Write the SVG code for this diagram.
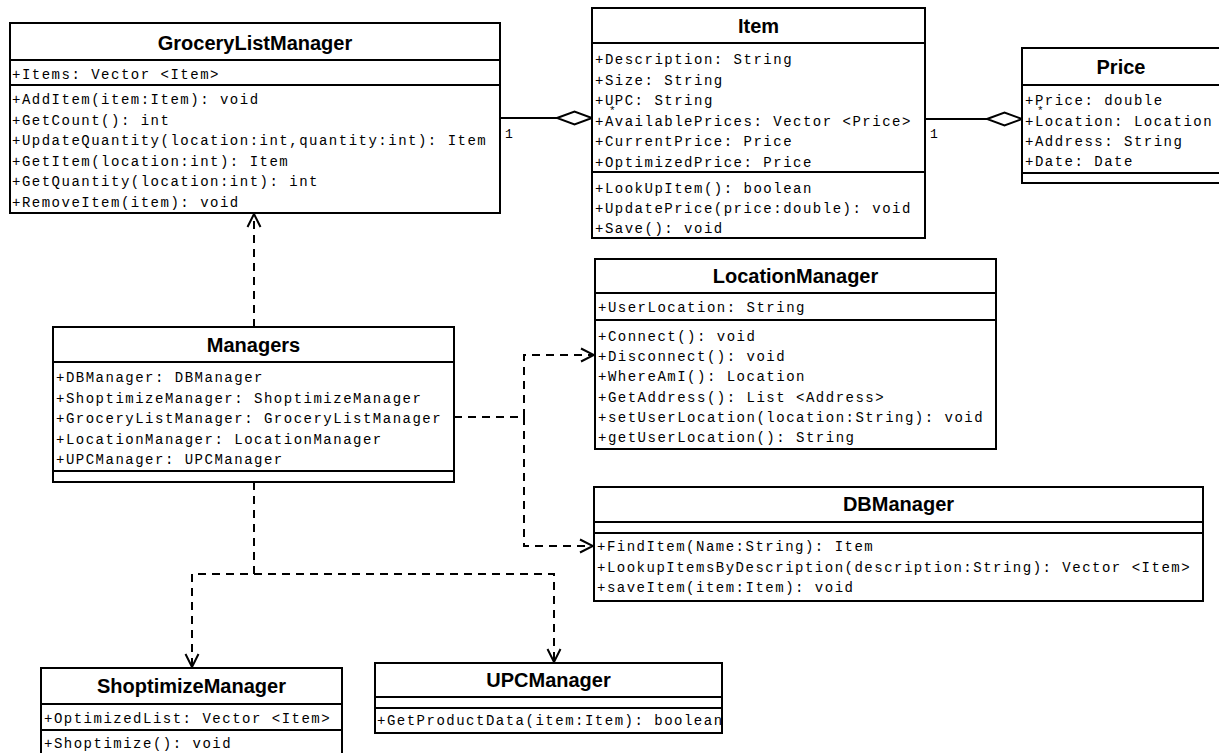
<svg xmlns="http://www.w3.org/2000/svg" width="1219" height="753" viewBox="0 0 1219 753">
<style>
.box{fill:#fff;stroke:#000;stroke-width:2}
.sep{stroke:#000;stroke-width:2}
.t{font-family:"Liberation Sans",Arial,sans-serif;font-weight:bold;font-size:20px;text-anchor:middle;fill:#000}
.m{font-family:"Liberation Mono","Courier New",monospace;font-size:14px;letter-spacing:1.5px;fill:#000}
.conn{fill:none;stroke:#000;stroke-width:2}
.dash{stroke-dasharray:8 6}
.lbl{font-family:"Liberation Mono","Courier New",monospace;font-size:13px;fill:#000}
.star{font-family:"Liberation Mono","Courier New",monospace;font-size:11px;fill:#000}
</style>
<defs>
<marker id="open" markerUnits="userSpaceOnUse" markerWidth="16" markerHeight="16" viewBox="0 0 16 16" refX="14" refY="8" orient="auto">
<path d="M1,1.5 L14,8 L1,14.5" fill="none" stroke="#000" stroke-width="2"/>
</marker>
<marker id="dia" markerUnits="userSpaceOnUse" markerWidth="40" markerHeight="18" viewBox="0 0 40 18" refX="37" refY="9" orient="auto">
<path d="M2,9 L19.5,2.5 L37,9 L19.5,15.5 Z" fill="#fff" stroke="#000" stroke-width="2"/>
</marker>
</defs>
<rect width="1219" height="753" fill="#fff"/>

<g id="connectors">
<path class="conn" d="M500,118 H592" marker-end="url(#dia)"/>
<path class="conn" d="M925,119 H1022" marker-end="url(#dia)"/>
<path class="conn dash" d="M254,327 V214" marker-end="url(#open)"/>
<path class="conn dash" d="M454,417 H524 V355 H594" marker-end="url(#open)"/>
<path class="conn dash" d="M524,417 V546 H593" marker-end="url(#open)"/>
<path class="conn dash" d="M254,482 V574 H192 V667" marker-end="url(#open)"/>
<path class="conn dash" d="M254,574 H554 V662" marker-end="url(#open)"/>
</g>

<g id="GroceryListManager">
<rect class="box" x="10" y="23" width="490" height="190"/>
<line class="sep" x1="10" y1="60" x2="500" y2="60"/>
<line class="sep" x1="10" y1="85" x2="500" y2="85"/>
<text class="t" x="255" y="50">GroceryListManager</text>
<text class="m" x="12" y="79">+Items: Vector &lt;Item&gt;</text>
<text class="m" x="12" y="104">+AddItem(item:Item): void</text>
<text class="m" x="12" y="124.6">+GetCount(): int</text>
<text class="m" x="12" y="145.2">+UpdateQuantity(location:int,quantity:int): Item</text>
<text class="m" x="12" y="165.8">+GetItem(location:int): Item</text>
<text class="m" x="12" y="186.4">+GetQuantity(location:int): int</text>
<text class="m" x="12" y="207">+RemoveItem(item): void</text>
</g>

<g id="Item">
<rect class="box" x="592" y="8" width="333" height="230"/>
<line class="sep" x1="592" y1="43" x2="925" y2="43"/>
<line class="sep" x1="592" y1="172" x2="925" y2="172"/>
<text class="t" x="758.5" y="33">Item</text>
<text class="m" x="595" y="64">+Description: String</text>
<text class="m" x="595" y="85">+Size: String</text>
<text class="m" x="595" y="105">+UPC: String</text>
<text class="m" x="595" y="126">+AvailablePrices: Vector &lt;Price&gt;</text>
<text class="m" x="595" y="146">+CurrentPrice: Price</text>
<text class="m" x="595" y="167">+OptimizedPrice: Price</text>
<text class="m" x="595" y="193">+LookUpItem(): boolean</text>
<text class="m" x="595" y="213">+UpdatePrice(price:double): void</text>
<text class="m" x="595" y="233">+Save(): void</text>
</g>

<g id="Price">
<rect class="box" x="1022" y="48" width="210" height="135"/>
<line class="sep" x1="1022" y1="85" x2="1232" y2="85"/>
<line class="sep" x1="1022" y1="173" x2="1232" y2="173"/>
<text class="t" x="1121" y="74">Price</text>
<text class="m" x="1025" y="105">+Price: double</text>
<text class="m" x="1025" y="126">+Location: Location</text>
<text class="m" x="1025" y="146">+Address: String</text>
<text class="m" x="1025" y="166">+Date: Date</text>
</g>

<g id="Managers">
<rect class="box" x="53" y="327" width="401" height="155"/>
<line class="sep" x1="53" y1="362" x2="454" y2="362"/>
<line class="sep" x1="53" y1="471" x2="454" y2="471"/>
<text class="t" x="253.5" y="352">Managers</text>
<text class="m" x="56" y="382">+DBManager: DBManager</text>
<text class="m" x="56" y="402.5">+ShoptimizeManager: ShoptimizeManager</text>
<text class="m" x="56" y="423">+GroceryListManager: GroceryListManager</text>
<text class="m" x="56" y="443.5">+LocationManager: LocationManager</text>
<text class="m" x="56" y="464">+UPCManager: UPCManager</text>
</g>

<g id="LocationManager">
<rect class="box" x="595" y="259" width="401" height="190"/>
<line class="sep" x1="595" y1="293" x2="996" y2="293"/>
<line class="sep" x1="595" y1="320" x2="996" y2="320"/>
<text class="t" x="795.5" y="283">LocationManager</text>
<text class="m" x="598" y="312">+UserLocation: String</text>
<text class="m" x="598" y="341">+Connect(): void</text>
<text class="m" x="598" y="361.2">+Disconnect(): void</text>
<text class="m" x="598" y="381.4">+WhereAmI(): Location</text>
<text class="m" x="598" y="401.6">+GetAddress(): List &lt;Address&gt;</text>
<text class="m" x="598" y="421.8">+setUserLocation(location:String): void</text>
<text class="m" x="598" y="442">+getUserLocation(): String</text>
</g>

<g id="DBManager">
<rect class="box" x="594" y="487" width="609" height="114"/>
<line class="sep" x1="594" y1="522" x2="1203" y2="522"/>
<line class="sep" x1="594" y1="533" x2="1203" y2="533"/>
<text class="t" x="898.5" y="511">DBManager</text>
<text class="m" x="597" y="551">+FindItem(Name:String): Item</text>
<text class="m" x="597" y="571.5">+LookupItemsByDescription(description:String): Vector &lt;Item&gt;</text>
<text class="m" x="597" y="592">+saveItem(item:Item): void</text>
</g>

<g id="ShoptimizeManager">
<rect class="box" x="41" y="668" width="301" height="100"/>
<line class="sep" x1="41" y1="704" x2="342" y2="704"/>
<line class="sep" x1="41" y1="730" x2="342" y2="730"/>
<text class="t" x="191.5" y="693">ShoptimizeManager</text>
<text class="m" x="44" y="723">+OptimizedList: Vector &lt;Item&gt;</text>
<text class="m" x="44" y="748">+Shoptimize(): void</text>
</g>

<g id="UPCManager">
<rect class="box" x="375" y="663" width="347" height="70"/>
<line class="sep" x1="375" y1="697" x2="722" y2="697"/>
<line class="sep" x1="375" y1="708" x2="722" y2="708"/>
<text class="t" x="548.5" y="687">UPCManager</text>
<text class="m" x="377" y="725">+GetProductData(item:Item): boolean</text>
</g>

<g id="connector-labels">
<text class="lbl" x="505" y="138">1</text>
<text class="star" x="609" y="114">*</text>
<text class="lbl" x="930" y="138">1</text>
<text class="star" x="1037" y="114">*</text>
</g>
</svg>
